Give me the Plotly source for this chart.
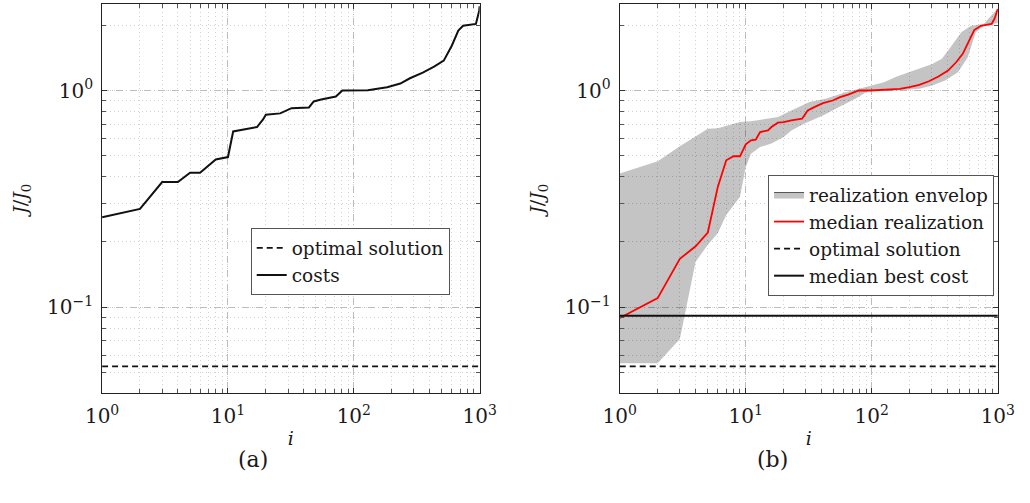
import math
import plotly.graph_objects as go

# ---- data -------------------------------------------------------------
# (a) sorted costs of single realization
cost_i = [1, 2, 3, 4, 5, 6, 8, 10, 11, 14, 16, 17, 19, 20, 26, 31, 32, 44, 48,
          55, 72, 81, 129, 184, 234, 279, 353, 434, 518, 600, 676, 738, 933, 990, 1000]
cost_j = [0.26, 0.284, 0.378, 0.378, 0.417, 0.417, 0.48, 0.493, 0.647, 0.666,
          0.678, 0.678, 0.735, 0.773, 0.784, 0.818, 0.829, 0.835, 0.89, 0.909,
          0.938, 1.0, 1.003, 1.036, 1.077, 1.139, 1.21, 1.29, 1.374, 1.61, 1.89,
          1.99, 2.03, 2.33, 2.45]

# optimal solution and median best cost levels
optimal_j = 0.0533
median_best_j = 0.0912
i_span = [1, 1000]

# (b) median realization
median_i = [1, 2, 3, 4, 5, 6, 7, 8, 9, 10, 11, 12, 13, 15, 16, 18, 20, 23, 28,
            31, 35, 41, 49, 56, 65, 79, 98, 167, 199, 238, 284, 338, 403, 467,
            527, 594, 650, 733, 893, 940, 1000]
median_j = [0.089, 0.110, 0.167, 0.191, 0.221, 0.359, 0.476, 0.497, 0.497,
            0.564, 0.589, 0.593, 0.643, 0.654, 0.678, 0.710, 0.714, 0.728,
            0.741, 0.809, 0.838, 0.874, 0.899, 0.932, 0.958, 1.0, 1.0, 1.018,
            1.036, 1.062, 1.103, 1.16, 1.236, 1.35, 1.476, 1.70, 1.90, 1.99,
            2.03, 2.14, 2.38]

# (b) realization envelope: upper and lower bounds
upper_i = [1, 2, 3, 5, 6, 9, 11, 18, 23, 32, 43, 62, 88, 125, 158, 212, 302,
           360, 430, 513, 612, 774, 1000]
upper_j = [0.414, 0.471, 0.553, 0.666, 0.670, 0.715, 0.722, 0.754, 0.809,
           0.884, 0.916, 0.982, 1.036, 1.092, 1.16, 1.236, 1.327, 1.40, 1.61,
           1.855, 1.99, 2.03, 2.40]
lower_i = [1, 2, 3, 4, 5, 6, 7, 9, 10, 11, 13, 16, 20, 23, 29, 41, 55, 74, 93,
           158, 238, 302, 382, 483, 576, 668, 774, 1000]
lower_j = [0.055, 0.055, 0.0712, 0.162, 0.194, 0.219, 0.266, 0.323, 0.444,
           0.511, 0.548, 0.569, 0.610, 0.654, 0.703, 0.767, 0.838, 0.916,
           0.993, 1.0, 1.018, 1.054, 1.112, 1.214, 1.42, 1.855, 1.99, 2.05]

y_min, y_max = 0.04, 2.5
x_ticks = [1, 10, 100, 1000]
x_ticktext = ["10<sup>0</sup>", "10<sup>1</sup>", "10<sup>2</sup>", "10<sup>3</sup>"]
y_ticks = [0.1, 1]
y_ticktext = ["10<sup>\u22121</sup>", "10<sup>0</sup>"]

# ---- styling ------------------------------------------------------------
FONT = "DejaVu Serif"
TEXT = "#1a1a1a"
W, H = 1030, 503
BLACK = "#111111"
ENV_FILL = "rgba(0,0,0,0.23)"

fig = go.Figure()

# panel (a)
fig.add_trace(go.Scatter(x=i_span, y=[optimal_j, optimal_j], mode="lines",
                         line=dict(color=BLACK, width=1.8, dash="6px,4px"),
                         name="optimal solution", xaxis="x", yaxis="y",
                         legend="legend"))
fig.add_trace(go.Scatter(x=cost_i, y=cost_j, mode="lines",
                         line=dict(color=BLACK, width=2),
                         name="costs", xaxis="x", yaxis="y", legend="legend"))

# panel (b)
env_x = lower_i + upper_i[::-1]
env_y = lower_j + upper_j[::-1]
fig.add_trace(go.Scatter(x=env_x, y=env_y, mode="lines", fill="toself",
                         fillcolor=ENV_FILL, line=dict(width=0),
                         showlegend=False, hoverinfo="skip",
                         xaxis="x2", yaxis="y2"))
# legend key for the envelope (outlined swatch)
fig.add_trace(go.Scatter(x=[None], y=[None], mode="lines", fill="toself",
                         fillcolor="#c4c4c4",
                         line=dict(color="#555555", width=1),
                         name="realization envelop", xaxis="x2", yaxis="y2",
                         legend="legend2"))
fig.add_trace(go.Scatter(x=median_i, y=median_j, mode="lines",
                         line=dict(color="#ff0000", width=1.8),
                         name="median realization", xaxis="x2", yaxis="y2",
                         legend="legend2"))
fig.add_trace(go.Scatter(x=i_span, y=[optimal_j, optimal_j], mode="lines",
                         line=dict(color=BLACK, width=1.8, dash="6px,4px"),
                         name="optimal solution", xaxis="x2", yaxis="y2",
                         legend="legend2"))
fig.add_trace(go.Scatter(x=i_span, y=[median_best_j, median_best_j], mode="lines",
                         line=dict(color=BLACK, width=2),
                         name="median best cost", xaxis="x2", yaxis="y2",
                         legend="legend2"))


def px_x(p):
    return p / W


def px_y(p):
    return (H - p) / H


common_axis = dict(
    type="log",
    showline=True, linecolor="#222222", linewidth=1, mirror="ticks",
    ticks="inside", ticklen=5, tickcolor="#333333", tickwidth=1,
    showgrid=True, gridcolor="#bdbdbd", griddash="7px,3px,1px,3px", gridwidth=1,
    zeroline=False,
    tickfont=dict(family=FONT, size=20, color=TEXT),
    minor=dict(dtick="D1", ticks="inside", ticklen=4, tickcolor="#555555",
               showgrid=True, gridcolor="#d2d2d2", griddash="1px,3px",
               gridwidth=1),
)

x_common = dict(common_axis, range=[0, 3], tickmode="array", tickvals=x_ticks,
                ticktext=x_ticktext, ticklabelstandoff=5,
                title=dict(text="<i>i</i>", font=dict(family=FONT, size=19,
                                                       color=TEXT),
                           standoff=4))
y_common = dict(common_axis, range=[math.log10(y_min), math.log10(y_max)],
                tickmode="array", tickvals=y_ticks, ticktext=y_ticktext,
                ticklabelstandoff=4,
                title=dict(text="<i>J</i>/<i>J</i><sub>0</sub>",
                           font=dict(family=FONT, size=19, color=TEXT),
                           standoff=14))

legend_common = dict(bgcolor="white", bordercolor="#555555", borderwidth=1,
                     font=dict(family=FONT, size=18.5, color=TEXT),
                     xanchor="left", yanchor="top", tracegroupgap=0,
                     itemwidth=30)

fig.update_layout(
    width=W, height=H,
    margin=dict(l=0, r=0, t=0, b=0),
    paper_bgcolor="white", plot_bgcolor="white",
    font=dict(family=FONT, color=TEXT),
    xaxis=dict(x_common, domain=[px_x(88), px_x(478.5)], anchor="y"),
    yaxis=dict(y_common, domain=[px_y(393.3), px_y(4.3)], anchor="x"),
    xaxis2=dict(x_common, domain=[px_x(623.3), px_x(1014.3)], anchor="y2"),
    yaxis2=dict(y_common, domain=[px_y(393.3), px_y(4.3)], anchor="x2"),
    legend=dict(legend_common, x=px_x(241.7), y=px_y(228.3)),
    legend2=dict(legend_common, x=px_x(776.7), y=px_y(175)),
    annotations=[
        dict(text="(a)", x=px_x(244), y=px_y(474), xref="paper", yref="paper",
             xanchor="center", yanchor="bottom", showarrow=False,
             font=dict(family=FONT, size=22, color=TEXT)),
        dict(text="(b)", x=px_x(781), y=px_y(474), xref="paper", yref="paper",
             xanchor="center", yanchor="bottom", showarrow=False,
             font=dict(family=FONT, size=22, color=TEXT)),
    ],
)

fig.write_html("out.html")
